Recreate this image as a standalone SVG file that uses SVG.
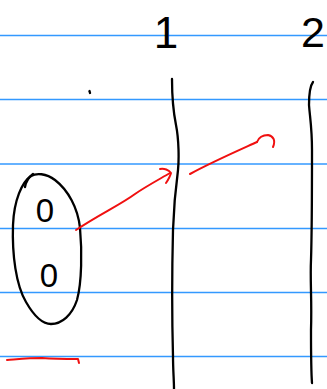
<svg xmlns="http://www.w3.org/2000/svg" width="327" height="389" viewBox="0 0 327 389">
<style>
.rule{stroke:#3399ff;stroke-width:1.5;fill:none}
.ink{stroke:#000;stroke-width:2.3;fill:none;stroke-linecap:round;stroke-linejoin:round}
.red{stroke:#f01010;stroke-width:2;fill:none;stroke-linecap:round;stroke-linejoin:round}
.hand{font-family:"Liberation Sans",Arial,sans-serif;fill:#000;text-anchor:middle}
</style>
<rect width="327" height="389" fill="#fff"/>
<g id="ruled-lines">
<line class="rule" x1="0" y1="35.5" x2="327" y2="35.5"/>
<line class="rule" x1="0" y1="99.5" x2="327" y2="99.5"/>
<line class="rule" x1="0" y1="164" x2="327" y2="164"/>
<line class="rule" x1="0" y1="228.5" x2="327" y2="228.5"/>
<line class="rule" x1="0" y1="292.5" x2="327" y2="292.5"/>
<line class="rule" x1="0" y1="356.5" x2="327" y2="356.5"/>
</g>
<g id="column-1">
<text class="hand" x="166" y="48" font-size="44">1</text>
<path class="ink" d="M172,79 C172,90 173,110 176,125 C179,140 179,160 178,170 C176,185 174,200 173,230 C172,270 172,320 173,356 C173,370 174,380 174,389"/>
</g>
<g id="column-2">
<text class="hand" x="313" y="47" font-size="43">2</text>
<path class="ink" d="M313,82 C310,86 309,92 309,105 C310,118 312,128 312,150 C312,190 312,230 311,260 C310,280 312,300 311,330 C311,350 311,370 312,383"/>
</g>
<g id="dot">
<path class="ink" d="M89.5,91 L90,93" stroke-width="2.5"/>
</g>
<g id="set">
<path class="ink" d="M31,176 C22,182 14,200 13,225 C12,255 16,285 26,302 C34,316 42,324 51,324 C62,324 72,315 77,300 C82,282 82,250 80,228 C78,208 68,190 55,180 C46,173 36,173 31,176 Z"/>
<path class="ink" d="M25,187 C26,181 29,177 33,174"/>
<text class="hand" x="45" y="222" font-size="33">0</text>
<text class="hand" x="49" y="287" font-size="33">0</text>
</g>
<g id="underline">
<path class="red" d="M7,360 C20,359 30,358 42,358 C55,359 68,359 78,359 L79,363"/>
</g>
<g id="connectors">
<path class="red" d="M76,230 C100,214 120,205 135,194 C145,187 158,180 170,173"/>
<path class="red" d="M160,169 C164,168 169,170 171,173 C170,177 168,180 166,183"/>
<path class="red" d="M190,174 C210,163 235,152 257,142"/>
<path class="red" d="M257,142 C259,137 263,135 268,135 C273,136 276,140 273,147"/>
</g>
</svg>
